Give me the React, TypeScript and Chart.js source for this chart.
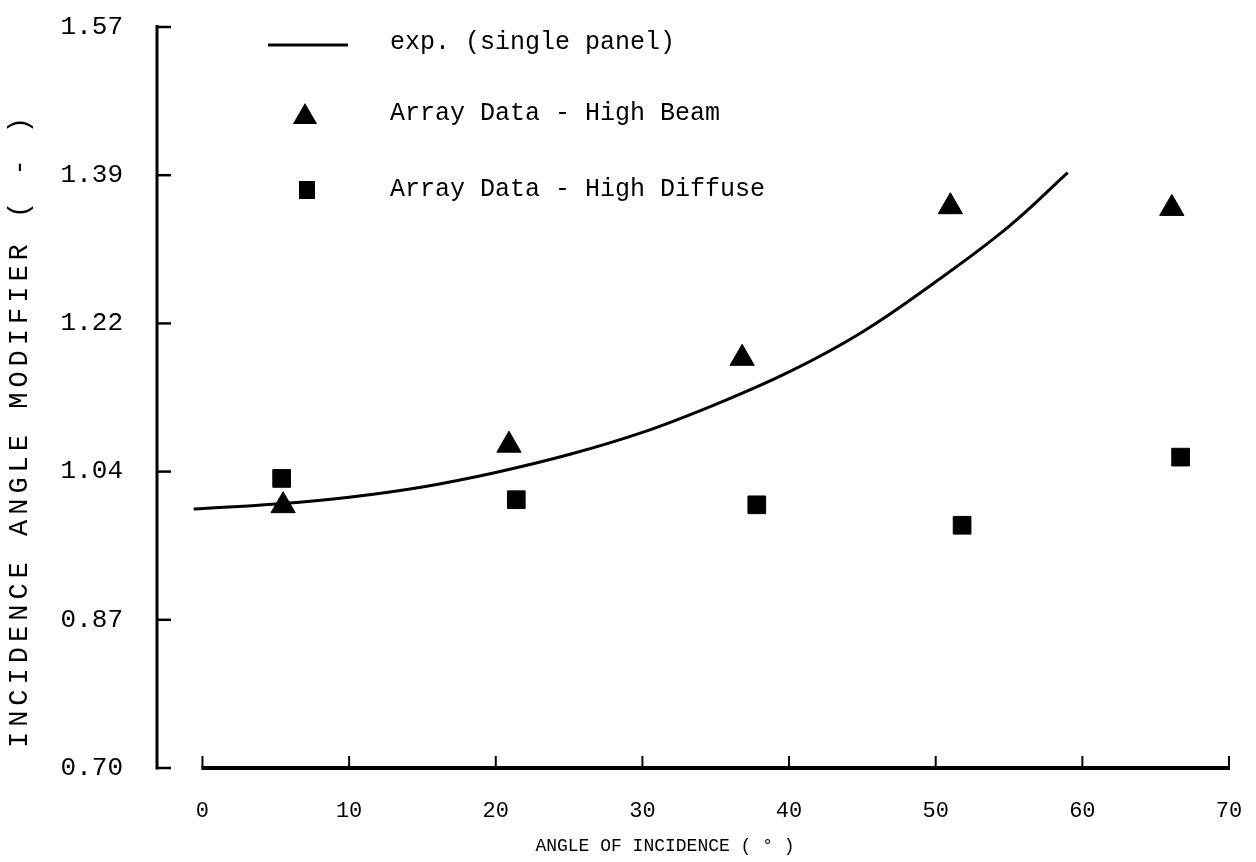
import React, { useEffect, useRef } from "react";
import { Chart, registerables } from "chart.js";

Chart.register(...registerables);

// ---- data ----
const curveAngles = [-0.6, 5, 10, 15, 20, 25, 30, 35, 40, 45, 50, 55, 59];
const curveModifier = [1.004, 1.01, 1.018, 1.03, 1.047, 1.068, 1.094, 1.127, 1.165, 1.212, 1.271, 1.336, 1.399];

const beamAngles = [5.5, 20.9, 36.8, 51.0, 66.1];
const beamModifier = [1.008, 1.079, 1.181, 1.359, 1.357];

const diffuseAngles = [5.4, 21.4, 37.8, 51.8, 66.7];
const diffuseModifier = [1.04, 1.015, 1.009, 0.985, 1.065];

const xTicks = [0, 10, 20, 30, 40, 50, 60, 70];
const yTicks = [0.7, 0.874, 1.048, 1.222, 1.396, 1.57];
const yTickLabels = ["0.70", "0.87", "1.04", "1.22", "1.39", "1.57"];

const seriesLabels = ["exp. (single panel)", "Array Data - High Beam", "Array Data - High Diffuse"];
const xTitle = "ANGLE OF INCIDENCE ( \u00B0 )";
const yTitle = "INCIDENCE ANGLE MODIFIER ( - )";

const MONO = "'Liberation Mono', 'DejaVu Sans Mono', monospace";

const toPoints = (xs: number[], ys: number[]) => xs.map((x, i) => ({ x, y: ys[i] }));

const scanAxes = {
  id: "scanAxes",
  afterDraw(chart: any) {
    const { ctx, chartArea, scales } = chart;
    const xs = scales.x;
    const ys = scales.y;
    ctx.save();
    ctx.strokeStyle = "#000";
    // y axis line
    ctx.lineWidth = 3;
    ctx.beginPath();
    ctx.moveTo(chartArea.left, ys.getPixelForValue(yTicks[yTicks.length - 1]) - 2);
    ctx.lineTo(chartArea.left, ys.getPixelForValue(yTicks[0]) + 1.5);
    ctx.stroke();
    // y ticks pointing inward
    ctx.lineWidth = 2.5;
    yTicks.forEach((v) => {
      const y = ys.getPixelForValue(v);
      ctx.beginPath();
      ctx.moveTo(chartArea.left, y);
      ctx.lineTo(chartArea.left + 14, y);
      ctx.stroke();
    });
    // x axis line
    const y0 = ys.getPixelForValue(yTicks[0]);
    ctx.lineWidth = 4;
    ctx.beginPath();
    ctx.moveTo(xs.getPixelForValue(xTicks[0]) - 1, y0);
    ctx.lineTo(xs.getPixelForValue(xTicks[xTicks.length - 1]) + 1, y0);
    ctx.stroke();
    // x ticks pointing inward (up)
    ctx.lineWidth = 2;
    xTicks.forEach((v) => {
      const x = xs.getPixelForValue(v);
      ctx.beginPath();
      ctx.moveTo(x, y0 + 1);
      ctx.lineTo(x, y0 - 12);
      ctx.stroke();
    });

    // axis titles (typewriter style, letter-spaced)
    ctx.fillStyle = "#000";
    ctx.textAlign = "center";
    ctx.textBaseline = "middle";
    ctx.font = "18px " + MONO;
    (ctx as any).letterSpacing = "0px";
    ctx.fillText(xTitle, 665, 846);
    ctx.save();
    ctx.translate(20, 430);
    ctx.rotate(-Math.PI / 2);
    ctx.font = "27px " + MONO;
    (ctx as any).letterSpacing = "5px";
    ctx.fillText(yTitle, 0, 0);
    ctx.restore();
    ctx.restore();
  },
};

const scanLegend = {
  id: "scanLegend",
  afterDraw(chart: any) {
    const { ctx } = chart;
    const ds = chart.data.datasets;
    ctx.save();
    ctx.fillStyle = "#000";
    ctx.strokeStyle = "#000";
    ctx.font = "25px " + MONO;
    ctx.textBaseline = "middle";
    ctx.textAlign = "left";
    const textX = 390;
    const rows = [42, 113, 189];
    ctx.lineWidth = 3;
    ctx.beginPath();
    ctx.moveTo(268, rows[0] + 3);
    ctx.lineTo(348, rows[0] + 3);
    ctx.stroke();
    ctx.fillText(ds[0].label, textX, rows[0]);
    const r = 14;
    const cx = 305;
    const cy = rows[1] + 4;
    ctx.beginPath();
    ctx.moveTo(cx, cy - r);
    ctx.lineTo(cx + r * Math.sin((2 * Math.PI) / 3), cy - r * Math.cos((2 * Math.PI) / 3));
    ctx.lineTo(cx + r * Math.sin((4 * Math.PI) / 3), cy - r * Math.cos((4 * Math.PI) / 3));
    ctx.closePath();
    ctx.fill();
    ctx.fillText(ds[1].label, textX, rows[1]);
    ctx.fillRect(299, rows[2] - 8, 16, 18);
    ctx.fillText(ds[2].label, textX, rows[2]);
    ctx.restore();
  },
};

export default function App() {
  const ref = useRef<HTMLCanvasElement | null>(null);

  useEffect(() => {
    if (!ref.current) return;
    const chart = new Chart(ref.current, {
      type: "scatter",
      data: {
        datasets: [
          {
            label: seriesLabels[0],
            data: toPoints(curveAngles, curveModifier),
            showLine: true,
            borderColor: "#000",
            backgroundColor: "#000",
            borderWidth: 3,
            pointRadius: 0,
            tension: 0.4,
          },
          {
            label: seriesLabels[1],
            data: toPoints(beamAngles, beamModifier),
            pointStyle: "triangle",
            pointRadius: 14,
            backgroundColor: "#000",
            borderColor: "#000",
            borderWidth: 1,
          },
          {
            label: seriesLabels[2],
            data: toPoints(diffuseAngles, diffuseModifier),
            pointStyle: "rect",
            pointRadius: 12.5,
            backgroundColor: "#000",
            borderColor: "#000",
            borderWidth: 1,
          },
        ],
      },
      options: {
        responsive: false,
        animation: false,
        layout: { padding: { top: 27, right: 27, left: 0, bottom: 0 } },
        plugins: {
          legend: { display: false },
          tooltip: { enabled: false },
        },
        scales: {
          x: {
            type: "linear",
            min: -3.1,
            max: 70,
            grid: { display: false },
            border: { display: false },
            afterBuildTicks: (s: any) => {
              s.ticks = xTicks.map((v) => ({ value: v }));
            },
            afterFit: (s: any) => {
              s.height = 94;
              s.paddingLeft = 0;
              s.paddingRight = 0;
            },
            ticks: {
              color: "#000",
              font: { family: MONO, size: 22 },
              padding: 22,
              maxRotation: 0,
              autoSkip: false,
            },
            title: { display: false, text: xTitle },
          },
          y: {
            type: "linear",
            min: 0.7,
            max: 1.57,
            grid: { display: false },
            border: { display: false },
            afterBuildTicks: (s: any) => {
              s.ticks = yTicks.map((v) => ({ value: v }));
            },
            afterFit: (s: any) => {
              s.width = 157;
              s.paddingTop = 0;
              s.paddingBottom = 0;
            },
            ticks: {
              color: "#000",
              font: { family: MONO, size: 26 },
              padding: 26,
              autoSkip: false,
              callback: (_v: any, i: number) => yTickLabels[i],
            },
            title: { display: false, text: yTitle },
          },
        },
      },
      plugins: [scanAxes, scanLegend],
    });
    return () => chart.destroy();
  }, []);

  return (
    <div style={{ position: "absolute", left: 0, top: 0, width: 1256, height: 862, background: "#fff" }}>
      <canvas ref={ref} width={1256} height={862} style={{ display: "block" }} />
    </div>
  );
}
